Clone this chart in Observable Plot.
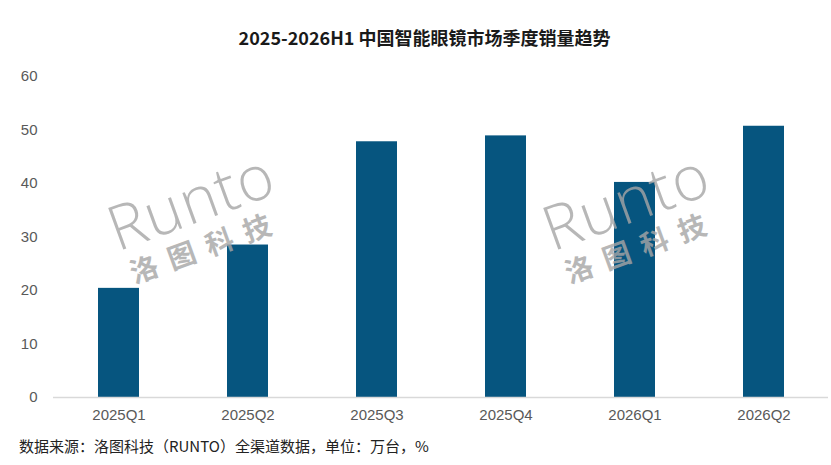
<!DOCTYPE html>
<html>
<head>
<meta charset="utf-8">
<script src="https://cdn.jsdelivr.net/npm/d3@7"></script>
<script src="https://cdn.jsdelivr.net/npm/@observablehq/plot@0.6"></script>
<style>
  html, body { margin: 0; padding: 0; background: #fff; }
  #wrap { position: relative; width: 831px; height: 465px; overflow: hidden; }
  #title { position: absolute; left: 0; top: 24px; width: 849px; text-align: center;
    font: bold 18px "Noto Sans CJK SC", "Noto Sans", sans-serif; color: #1a1a1a; line-height: 26px; }
  #chart { position: absolute; left: 0; top: 60px; }
  #caption { position: absolute; left: 19px; top: 436px;
    font: 15px "Noto Sans CJK SC", "Noto Sans", sans-serif; color: #222; line-height: 20px; }
  .wm { position: absolute; color: #a6a6a6; opacity: 0.8; transform: rotate(-20deg); transform-origin: center;
    font-family: "Noto Sans CJK SC", sans-serif; text-align: center; pointer-events: none; }
  .wm .en { font: 300 62px "Open Sans", "Noto Sans", sans-serif; letter-spacing: 1px; line-height: 62px; }
  .wm .cn { font-weight: bold; font-size: 28px; letter-spacing: 12px; line-height: 34px; }
</style>
</head>
<body>
<div id="wrap">
  <div id="title">2025-2026H1 中国智能眼镜市场季度销量趋势</div>
  <div id="chart"></div>
  <div class="wm" style="left:110px; top:168px; width:170px;"><div class="en">Runto</div><div class="cn">洛图科技</div></div>
  <div class="wm" style="left:545px; top:168px; width:170px;"><div class="en">Runto</div><div class="cn">洛图科技</div></div>
  <div id="caption">数据来源：洛图科技（RUNTO）全渠道数据，单位：万台，%</div>
</div>
<script>
const quarters = ["2025Q1", "2025Q2", "2025Q3", "2025Q4", "2026Q1", "2026Q2"];
const sales = [20.4, 28.5, 47.8, 48.9, 40.2, 50.7];
const yTicks = [0, 10, 20, 30, 40, 50, 60];

const data = quarters.map((q, i) => ({quarter: q, value: sales[i]}));

const chart = Plot.plot({
  width: 831,
  height: 370,
  marginTop: 16,
  marginBottom: 33,
  marginLeft: 53,
  marginRight: 3,
  style: {fontFamily: "'Liberation Sans', Arial, sans-serif", fontSize: "15px", color: "#595959", background: "#fff"},
  x: {domain: quarters, paddingInner: 0.686, paddingOuter: 0.343, label: null},
  y: {domain: [0, 60], ticks: yTicks, label: null},
  marks: [
    Plot.barY(data, {x: "quarter", y: "value", fill: "#06557f"}),
    Plot.ruleY([0], {stroke: "#d9d9d9", strokeWidth: 1.5}),
    Plot.axisY({ticks: yTicks, tickSize: 0, tickPadding: 16, fontSize: 15, fill: "#595959", label: null}),
    Plot.axisX({tickSize: 0, tickPadding: 12, fontSize: 15, fill: "#595959", label: null})
  ]
});
document.getElementById("chart").appendChild(chart);
</script>
</body>
</html>
